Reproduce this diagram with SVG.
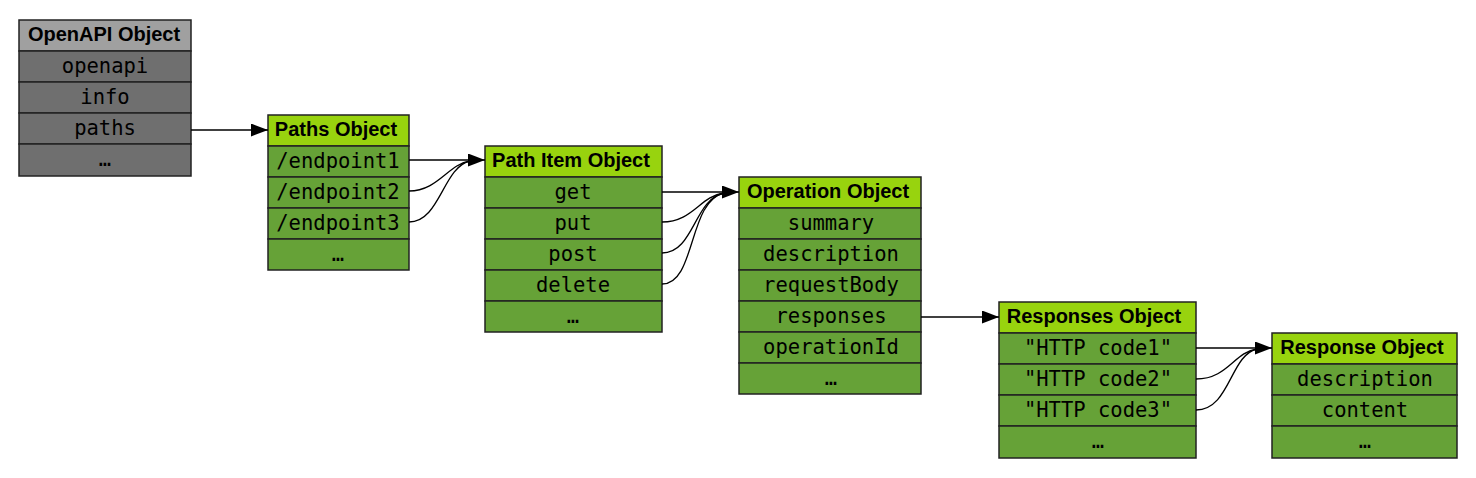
<svg xmlns="http://www.w3.org/2000/svg" width="1476" height="478" viewBox="0 0 1476 478">
<style>
.hd{font-family:"Liberation Sans",Arial,sans-serif;font-weight:bold;font-size:20px;text-anchor:middle;fill:#000}
.rw{font-family:"DejaVu Sans Mono",monospace;font-size:20.5px;text-anchor:middle;fill:#000}
.gh{fill:#a0a0a0;stroke:#222;stroke-width:1.5}
.gr{fill:#6f6f6f;stroke:#222;stroke-width:1.5}
.vh{fill:#98d30e;stroke:#222;stroke-width:1.5}
.vr{fill:#66a237;stroke:#222;stroke-width:1.5}
.ln{fill:none;stroke:#000;stroke-width:1.3}
</style>
<defs>
<marker id="ah" viewBox="0 0 17 13" refX="17" refY="6.5" markerWidth="17" markerHeight="13" markerUnits="userSpaceOnUse" orient="auto">
<path d="M0,0 L17,6.5 L0,13 z" fill="#000"/>
</marker>
</defs>
<rect width="1476" height="478" fill="#fff"/>

<g id="openapi">
<rect class="gh" x="19" y="20" width="172" height="31"/>
<rect class="gr" x="19" y="51" width="172" height="31"/>
<rect class="gr" x="19" y="82" width="172" height="31"/>
<rect class="gr" x="19" y="113" width="172" height="31"/>
<rect class="gr" x="19" y="144" width="172" height="32"/>
<text class="hd" x="104" y="41">OpenAPI Object</text>
<text class="rw" x="105" y="73">openapi</text>
<text class="rw" x="105" y="104">info</text>
<text class="rw" x="105" y="135">paths</text>
<text class="rw" x="105" y="166">…</text>
</g>

<g id="paths">
<rect class="vh" x="268" y="115" width="141" height="31"/>
<rect class="vr" x="268" y="146" width="141" height="31"/>
<rect class="vr" x="268" y="177" width="141" height="31"/>
<rect class="vr" x="268" y="208" width="141" height="31"/>
<rect class="vr" x="268" y="239" width="141" height="31"/>
<text class="hd" x="336" y="136">Paths Object</text>
<text class="rw" x="338" y="168">/endpoint1</text>
<text class="rw" x="338" y="199">/endpoint2</text>
<text class="rw" x="338" y="230">/endpoint3</text>
<text class="rw" x="338" y="261">…</text>
</g>

<g id="pathitem">
<rect class="vh" x="485" y="146" width="177" height="31"/>
<rect class="vr" x="485" y="177" width="177" height="31"/>
<rect class="vr" x="485" y="208" width="177" height="31"/>
<rect class="vr" x="485" y="239" width="177" height="31"/>
<rect class="vr" x="485" y="270" width="177" height="31"/>
<rect class="vr" x="485" y="301" width="177" height="31"/>
<text class="hd" x="571" y="167">Path Item Object</text>
<text class="rw" x="573" y="199">get</text>
<text class="rw" x="573" y="230">put</text>
<text class="rw" x="573" y="261">post</text>
<text class="rw" x="573" y="292">delete</text>
<text class="rw" x="573" y="323">…</text>
</g>

<g id="operation">
<rect class="vh" x="739" y="177" width="182" height="31"/>
<rect class="vr" x="739" y="208" width="182" height="31"/>
<rect class="vr" x="739" y="239" width="182" height="31"/>
<rect class="vr" x="739" y="270" width="182" height="31"/>
<rect class="vr" x="739" y="301" width="182" height="31"/>
<rect class="vr" x="739" y="332" width="182" height="31"/>
<rect class="vr" x="739" y="363" width="182" height="31"/>
<text class="hd" x="828" y="198">Operation Object</text>
<text class="rw" x="831" y="230">summary</text>
<text class="rw" x="831" y="261">description</text>
<text class="rw" x="831" y="292">requestBody</text>
<text class="rw" x="831" y="323">responses</text>
<text class="rw" x="831" y="354">operationId</text>
<text class="rw" x="831" y="385">…</text>
</g>

<g id="responses">
<rect class="vh" x="999" y="302" width="197" height="31"/>
<rect class="vr" x="999" y="333" width="197" height="31"/>
<rect class="vr" x="999" y="364" width="197" height="31"/>
<rect class="vr" x="999" y="395" width="197" height="31"/>
<rect class="vr" x="999" y="426" width="197" height="32"/>
<text class="hd" x="1094" y="323">Responses Object</text>
<text class="rw" x="1098" y="355">"HTTP code1"</text>
<text class="rw" x="1098" y="386">"HTTP code2"</text>
<text class="rw" x="1098" y="417">"HTTP code3"</text>
<text class="rw" x="1098" y="448">…</text>
</g>

<g id="response">
<rect class="vh" x="1272" y="333" width="185" height="31"/>
<rect class="vr" x="1272" y="364" width="185" height="31"/>
<rect class="vr" x="1272" y="395" width="185" height="31"/>
<rect class="vr" x="1272" y="426" width="185" height="32"/>
<text class="hd" x="1362" y="354">Response Object</text>
<text class="rw" x="1365" y="386">description</text>
<text class="rw" x="1365" y="417">content</text>
<text class="rw" x="1365" y="448">…</text>
</g>

<g id="connectors">
<path class="ln" d="M191,130 L268,130" marker-end="url(#ah)"/>
<path class="ln" d="M409,160 L485,160" marker-end="url(#ah)"/>
<path class="ln" d="M409,191 C438,191 448,164 470,161"/>
<path class="ln" d="M409,222 C440,222 443,167 470,161"/>
<path class="ln" d="M662,192 L739,192" marker-end="url(#ah)"/>
<path class="ln" d="M662,222 C693,222 700,196 724,193"/>
<path class="ln" d="M662,253 C694,253 694,199 724,193"/>
<path class="ln" d="M662,284 C696,284 688,201 724,193"/>
<path class="ln" d="M921,317 L999,317" marker-end="url(#ah)"/>
<path class="ln" d="M1196,348 L1272,348" marker-end="url(#ah)"/>
<path class="ln" d="M1196,379 C1228,379 1234,352 1257,349"/>
<path class="ln" d="M1196,410 C1230,410 1230,355 1257,349"/>
</g>
</svg>
